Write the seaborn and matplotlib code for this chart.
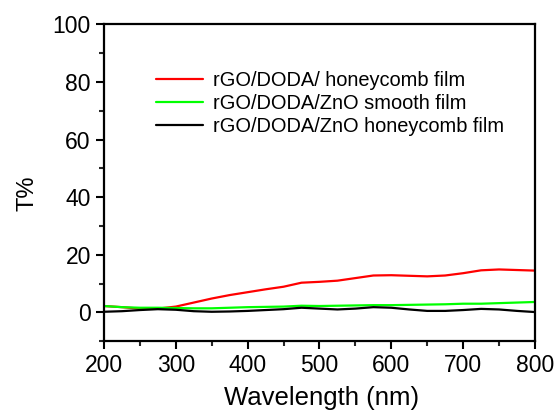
import matplotlib
matplotlib.use("Agg")
import matplotlib.pyplot as plt
import pandas as pd
import seaborn as sns
from matplotlib.ticker import MultipleLocator

wavelength = [200, 225, 250, 275, 300, 325, 350, 375, 400, 425, 450, 475, 500,
              525, 550, 575, 600, 625, 650, 675, 700, 725, 750, 775, 800]
t_rgo_doda_honeycomb = [2.2, 1.8, 1.3, 1.3, 2.0, 3.4, 4.8, 6.0, 7.0, 8.0, 8.9, 10.3, 10.6,
                        11.0, 11.9, 12.8, 12.9, 12.7, 12.5, 12.8, 13.6, 14.6, 14.9, 14.7, 14.5]
t_zno_smooth = [2.2, 1.8, 1.6, 1.6, 1.5, 1.4, 1.4, 1.6, 1.8, 1.9, 2.0, 2.3, 2.2,
                2.3, 2.4, 2.5, 2.5, 2.6, 2.7, 2.8, 3.0, 3.0, 3.2, 3.4, 3.6]
t_zno_honeycomb = [0.2, 0.4, 0.8, 1.1, 0.9, 0.4, 0.2, 0.3, 0.5, 0.8, 1.1, 1.6, 1.3,
                   1.0, 1.3, 1.8, 1.6, 1.0, 0.5, 0.5, 0.8, 1.2, 1.0, 0.5, 0.1]

labels = ["rGO/DODA/ honeycomb film", "rGO/DODA/ZnO smooth film",
          "rGO/DODA/ZnO honeycomb film"]
colors = ["#ff0000", "#00ff00", "#000000"]

frames = []
for name, vals in zip(labels, [t_rgo_doda_honeycomb, t_zno_smooth, t_zno_honeycomb]):
    frames.append(pd.DataFrame({"Wavelength": wavelength, "T": vals, "Sample": name}))
df = pd.concat(frames, ignore_index=True)

sns.set_style("ticks")
plt.rcParams["font.family"] = ["Liberation Sans", "DejaVu Sans"]
plt.rcParams["text.color"] = "black"
plt.rcParams["axes.labelcolor"] = "black"

fig = plt.figure(figsize=(5.59, 4.15), dpi=100)
ax = fig.add_axes([0.186, 0.178, 0.771, 0.763])

sns.lineplot(data=df, x="Wavelength", y="T", hue="Sample", palette=dict(zip(labels, colors)),
             linewidth=1.6, ax=ax)

ax.set_xlim(200, 800)
ax.set_ylim(-10, 100)
ax.xaxis.set_major_locator(MultipleLocator(100))
ax.xaxis.set_minor_locator(MultipleLocator(50))
ax.yaxis.set_major_locator(MultipleLocator(20))
ax.yaxis.set_minor_locator(MultipleLocator(10))
ax.tick_params(which="major", direction="out", length=6, width=1.5, labelsize=16.5,
               colors="black", right=False, top=False)
ax.tick_params(which="minor", direction="out", length=3.5, width=1.5, right=False, top=False)

for side in ["left", "bottom", "right", "top"]:
    ax.spines[side].set_visible(True)
    ax.spines[side].set_linewidth(1.6)
    ax.spines[side].set_color("black")

ax.set_xlabel("Wavelength (nm)", fontsize=18.5)
ax.set_ylabel("T%", fontsize=17)
ax.xaxis.set_label_coords(0.506, -0.142)
ax.yaxis.set_label_coords(-0.153, 0.468)

ax.legend(title=None, frameon=False, loc="upper left", bbox_to_anchor=(0.08, 0.91),
          fontsize=14.4, handlelength=2.35, handletextpad=0.5, labelspacing=0.2)

fig.savefig("out.png", dpi=100)
